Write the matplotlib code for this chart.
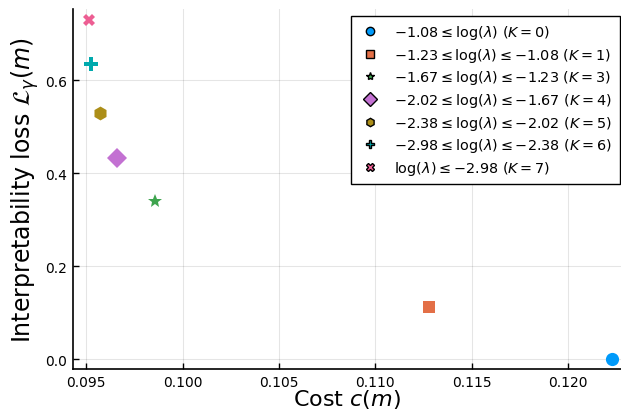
import matplotlib
matplotlib.use("Agg")
import matplotlib.pyplot as plt
from matplotlib.lines import Line2D

# values
cost = [0.12228, 0.11279, 0.09859, 0.09659, 0.09569, 0.09526, 0.09514]
loss = [0.000, 0.112, 0.340, 0.433, 0.530, 0.634, 0.730]
labels = [
    r"${-}1.08 \leq \log(\lambda)\ (K=0)$",
    r"${-}1.23 \leq \log(\lambda) \leq {-}1.08\ (K=1)$",
    r"${-}1.67 \leq \log(\lambda) \leq {-}1.23\ (K=3)$",
    r"${-}2.02 \leq \log(\lambda) \leq {-}1.67\ (K=4)$",
    r"${-}2.38 \leq \log(\lambda) \leq {-}2.02\ (K=5)$",
    r"${-}2.98 \leq \log(\lambda) \leq {-}2.38\ (K=6)$",
    r"$\log(\lambda) \leq {-}2.98\ (K=7)$",
]
colors = ["#009AFA", "#E36F47", "#3EA44E", "#C371D2", "#AC8E18", "#00A9AD", "#ED5E93"]
markers = ["o", "s", "*", "D", "h", "P", "X"]
sizes = [9.5, 9, 10.5, 10, 10, 10, 9]

plt.rcParams["mathtext.fontset"] = "dejavusans"

fig = plt.figure(figsize=(6.21, 4.14), dpi=100)
ax = fig.add_axes([73 / 621, 44 / 414, 548 / 621, 360 / 414])

handles = []
for c, l, lab, col, m, s in zip(cost, loss, labels, colors, markers, sizes):
    ax.plot(c, l, linestyle="none", marker=m, markersize=s, color=col,
            markeredgecolor=col, markeredgewidth=0, zorder=3)
    handles.append(Line2D([], [], linestyle="none", marker=m, markersize=6 if m != "D" else 7,
                          markerfacecolor=col, markeredgecolor="black",
                          markeredgewidth=1.0, label=lab))

ax.set_xlim(0.09431, 0.12275)
ax.set_ylim(-0.0215, 0.7527)
ax.set_xticks([0.095, 0.100, 0.105, 0.110, 0.115, 0.120])
ax.set_yticks([0.0, 0.2, 0.4, 0.6])
ax.xaxis.set_major_formatter(matplotlib.ticker.FormatStrFormatter("%.3f"))
ax.yaxis.set_major_formatter(matplotlib.ticker.FormatStrFormatter("%.1f"))
ax.tick_params(direction="in", length=4, width=1, labelsize=10, pad=4)
ax.grid(True, color="black", alpha=0.1, linewidth=0.8)
ax.set_axisbelow(True)
for side in ["top", "right"]:
    ax.spines[side].set_visible(False)
for side in ["left", "bottom"]:
    ax.spines[side].set_linewidth(1.2)

ax.set_xlabel(r"Cost $c(m)$", fontsize=16, labelpad=-1)
ax.set_ylabel(r"Interpretability loss $\mathcal{L}_\gamma(m)$", fontsize=17, labelpad=3)

leg = ax.legend(handles=handles, loc="upper right", fontsize=10.4, frameon=True,
                fancybox=False, edgecolor="black", framealpha=1,
                bbox_to_anchor=(1.0, 0.985),
                borderaxespad=0.1, labelspacing=0.32, handletextpad=0.9,
                handlelength=1.6, borderpad=0.5)
leg.get_frame().set_linewidth(1.0)

fig.savefig("out.png", dpi=100)
